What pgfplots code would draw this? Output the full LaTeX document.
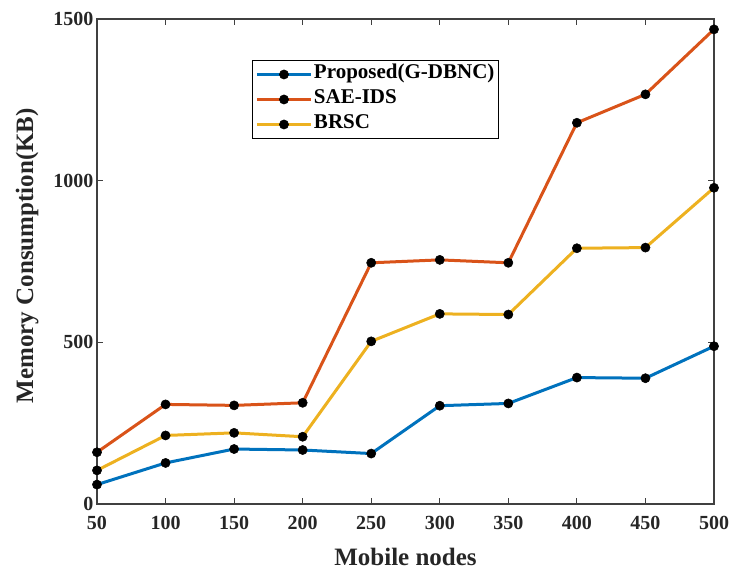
\documentclass[border=0pt]{standalone}
\usepackage{fontspec}
\setmainfont{Liberation Serif}
\usepackage{pgfplots}
\pgfplotsset{compat=1.18}

\definecolor{mblue}{rgb}{0,0.447,0.741}
\definecolor{morange}{rgb}{0.85,0.325,0.098}
\definecolor{myellow}{rgb}{0.929,0.694,0.125}

\begin{document}
\begin{tikzpicture}
\useasboundingbox (-97pt,-66pt) rectangle (637pt,504pt);
\begin{axis}[
  scale only axis, width=617pt, height=485pt,
  at={(0,0)}, anchor=south west,
  xmin=50, xmax=500, ymin=0, ymax=1500,
  xtick={50,100,...,500}, ytick={0,500,1000,1500},
  tick align=inside, major tick length=6pt,
  tick style={line width=1pt, color=black!75},
  axis line style={line width=1.2pt, color=black!75},
  /pgf/number format/assume math mode=true,
  /pgf/number format/set thousands separator={},
  ticklabel style={font=\fontsize{20}{24}\selectfont\bfseries, text=black!85},
  xticklabel style={yshift=-9pt},
  xlabel={Mobile nodes}, ylabel={Memory Consumption(KB)},
  label style={font=\fontsize{25}{30}\selectfont\bfseries, text=black!85},
  xlabel style={at={(axis description cs:0.5,0)}, anchor=base, yshift=-61pt},
  ylabel style={at={(axis description cs:-0.1037,0.512)}, anchor=base, rotate=0},
  clip=false,
  every axis plot/.append style={line width=3pt, mark=*, mark size=4.6pt,
    mark options={fill=black, draw=black, line width=0.5pt}},
  legend style={at={(0.2512,0.9155)}, anchor=north west, draw=black,
    line width=1pt, fill=white, font=\fontsize{21}{25}\selectfont\bfseries,
    inner xsep=3pt, inner ysep=3pt, row sep=3pt,
    nodes={inner sep=1.5pt, text height=14pt, text depth=5pt}},
  legend cell align=left,
  legend image code/.code={\draw[#1, mark repeat=2, mark phase=2]
    plot coordinates {(0pt,0pt) (27pt,0pt) (54pt,0pt)};},
]
\addplot[color=mblue] coordinates {
  (50,60) (100,127) (150,170) (200,167) (250,156)
  (300,304) (350,311) (400,391) (450,389) (500,488)};
\addlegendentry{Proposed(G-DBNC)}
\addplot[color=morange] coordinates {
  (50,160) (100,308) (150,305) (200,313) (250,746)
  (300,755) (350,746) (400,1179) (450,1267) (500,1468)};
\addlegendentry{SAE-IDS}
\addplot[color=myellow] coordinates {
  (50,104) (100,212) (150,220) (200,208) (250,503)
  (300,588) (350,586) (400,791) (450,793) (500,978)};
\addlegendentry{BRSC}
\end{axis}
\end{tikzpicture}
\end{document}
